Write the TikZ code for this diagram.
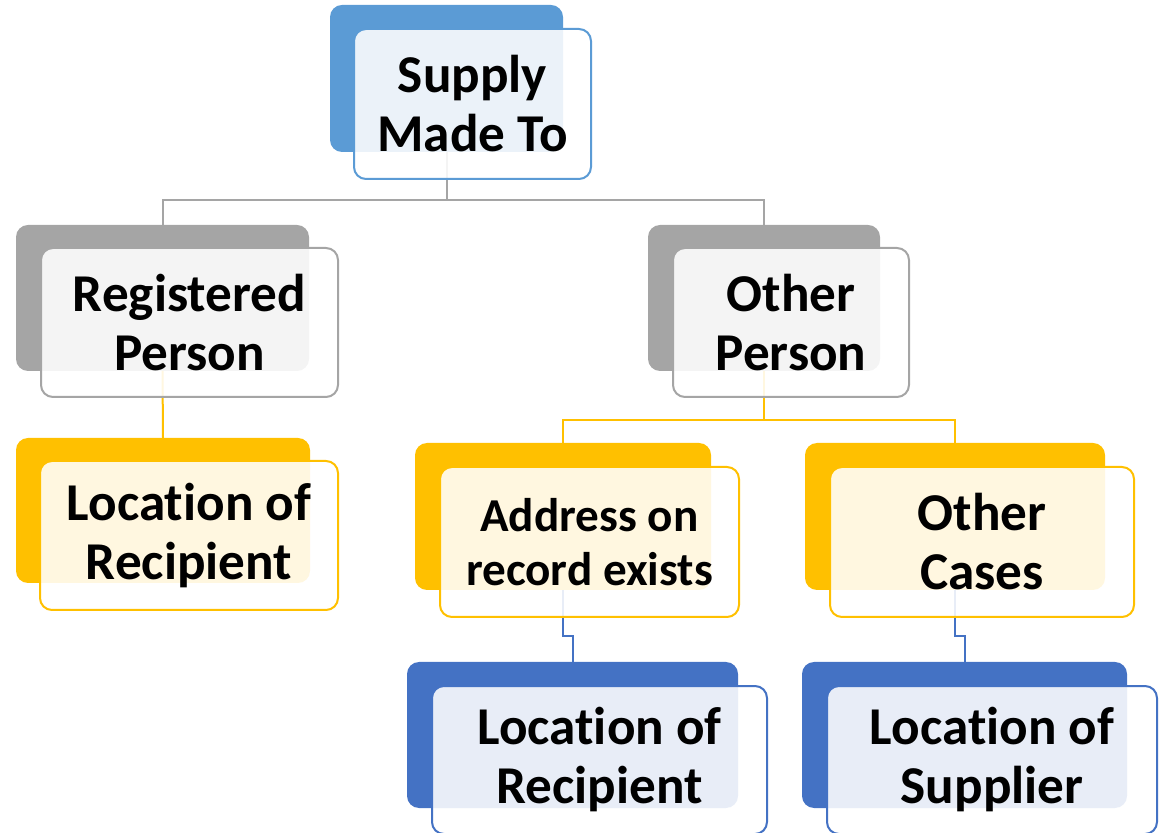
\documentclass[tikz,border=0pt]{standalone}
\usepackage{fontspec}
\setmainfont{Carlito}[Ligatures=NoCommon]
\definecolor{topblue}{HTML}{5B9BD5}
\definecolor{midgray}{HTML}{A5A5A5}
\definecolor{gold}{HTML}{FFC000}
\definecolor{darkblue}{HTML}{4472C4}
\tikzset{backbox/.style={
        draw=none,
        fill=#1,
        rounded corners=6pt,
        inner sep=0pt,
        outer sep=0pt},
        %
        frontbox/.style={
            draw=#1,
            line width=1pt,
            fill=white,
            fill opacity=0.88,
            text opacity=1,
            rounded corners=6pt,
            align=center,
            inner sep=0pt,
            outer sep=0pt,
            font=\fontsize{26.6}{29.5}\selectfont\bfseries},
        dims/.style 2 args={minimum width=#1pt,minimum height=#2pt},
        link/.style={draw=#1,line width=1pt}
        }

\begin{document}
\begin{tikzpicture}[x=0.5pt,y=-0.5pt]
\useasboundingbox (0,0) rectangle (1162,833);

% back boxes
\node[backbox=topblue,dims={116.5}{73.5}] (SMb) at (446.5,78.5) {};
\node[backbox=midgray,dims={146.5}{73}] (RPb) at (162.5,298) {};
\node[backbox=midgray,dims={116}{73}] (OPb) at (764,298) {};
\node[backbox=gold,dims={147}{72.5}] (LRab) at (163,510.5) {};
\node[backbox=gold,dims={148}{73.5}] (ARb) at (563,516.5) {};
\node[backbox=gold,dims={150}{73.5}] (OCb) at (955,516.5) {};
\node[backbox=darkblue,dims={165.5}{73}] (LRbb) at (572.5,735) {};
\node[backbox=darkblue,dims={162.5}{73}] (LSb) at (964.5,735) {};

% connectors
\coordinate (bus1) at (446.5,200);
\draw[link=midgray] (SMb.south) -- (bus1) -| (RPb.north);
\draw[link=midgray] (bus1) -| (OPb.north);
\draw[link=gold] (RPb.south) -- (LRab.north);
\coordinate (bus2) at (764,420);
\draw[link=gold] (OPb.south) -- (bus2) -| (ARb.north);
\draw[link=gold] (bus2) -| (OCb.north);
\draw[link=darkblue] (ARb.south) -- ++(0,46) -| (LRbb.north);
\draw[link=darkblue] (OCb.south) -- ++(0,46) -| (LSb.north);

% front boxes
\node[frontbox=topblue,dims={118.5}{75}] (SM) at (472.5,104) {Supply\\Made To};
\node[frontbox=midgray,dims={148.5}{74.5}] (RP) at (189.5,322.5) {Registered\\Person};
\node[frontbox=midgray,dims={118}{74.5}] (OP) at (791,322.5) {Other\\Person};
\node[frontbox=gold,dims={149}{74.5}] (LRa) at (189,535.5) {Location of\\Recipient};
\node[frontbox=gold,dims={149.5}{75},font=\fontsize{23.6}{27}\selectfont\bfseries] (AR) at (589.5,542) {Address on\\record exists};
\node[frontbox=gold,dims={152}{75}] (OC) at (982,542) {Other\\Cases};
\node[frontbox=darkblue,dims={167.5}{74}] (LRb) at (599.5,760) {Location of\\Recipient};
\node[frontbox=darkblue,dims={165}{74}] (LS) at (992,760) {Location of\\Supplier};
\end{tikzpicture}
\end{document}
